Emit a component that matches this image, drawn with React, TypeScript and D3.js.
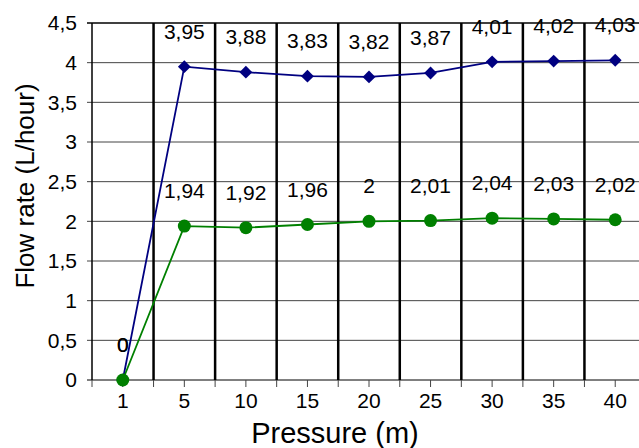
import React from "react";
import * as d3 from "d3";

const categories = ["1", "5", "10", "15", "20", "25", "30", "35", "40"];
const blueSeries = [0, 3.95, 3.88, 3.83, 3.82, 3.87, 4.01, 4.02, 4.03];
const greenSeries = [0, 1.94, 1.92, 1.96, 2, 2.01, 2.04, 2.03, 2.02];
const yTicks = [0, 0.5, 1, 1.5, 2, 2.5, 3, 3.5, 4, 4.5];

const W = 639;
const H = 448;
const FONT = "'Liberation Sans', Arial, sans-serif";

const fmt = (v: number) => String(v).replace(".", ",");

export default function App() {
  const margin = { top: 23, left: 92, bottom: 68 };
  const plotRight = 646;
  const x = d3.scaleBand<string>().domain(categories).range([margin.left, plotRight]).padding(0);
  const y = d3.scaleLinear().domain([0, 4.5]).range([H - margin.bottom, margin.top]);
  const cx = (c: string) => (x(c) as number) + x.bandwidth() / 2;
  const y0 = y(0);

  const line = d3
    .line<number>()
    .x((_, i) => cx(categories[i]))
    .y(d => y(d));

  const diamond = d3.symbol().type(d3.symbolDiamond2).size(105)();

  const boundaries = categories.map(c => x(c) as number).concat([plotRight]);

  return (
    <svg
      width={W}
      height={H}
      style={{ position: "absolute", left: 0, top: 0, background: "#fff" }}
      fontFamily={FONT}
    >
      {/* horizontal gridlines */}
      {yTicks.map(t => (
        <g key={t}>
          <line
            x1={margin.left - 5}
            x2={plotRight}
            y1={y(t)}
            y2={y(t)}
            stroke={t === 0 || t === 4.5 ? "#000" : "#444"}
            strokeWidth={t === 4.5 ? 1.5 : 1}
          />
          <text x={77} y={y(t)} dy="0.35em" textAnchor="end" fontSize={21} fill="#000">
            {fmt(t)}
          </text>
        </g>
      ))}

      {/* vertical category separators */}
      {boundaries.map((b, i) => (
        <g key={i}>
          <line x1={b} x2={b} y1={y0} y2={y0 + 7} stroke="#444" strokeWidth={1} />
          <line
            x1={b}
            x2={b}
            y1={margin.top}
            y2={y0}
            stroke="#000"
            strokeWidth={i === 0 ? 1.5 : 2.5}
          />
        </g>
      ))}

      {/* x ticks + labels */}
      {categories.map(c => (
        <g key={c}>
          <line x1={cx(c)} x2={cx(c)} y1={y0} y2={y0 + 7} stroke="#444" strokeWidth={1} />
          <text x={cx(c)} y={408} textAnchor="middle" fontSize={21} fill="#000">
            {c}
          </text>
        </g>
      ))}

      {/* series */}
      <path d={line(blueSeries) as string} fill="none" stroke="#000080" strokeWidth={1.8} />
      {blueSeries.map((v, i) => (
        <path key={i} d={diamond as string} transform={`translate(${cx(categories[i])},${y(v)})`} fill="#000080" />
      ))}
      <path d={line(greenSeries) as string} fill="none" stroke="#008000" strokeWidth={1.8} />
      {greenSeries.map((v, i) => (
        <circle key={i} cx={cx(categories[i])} cy={y(v)} r={6.5} fill="#008000" />
      ))}

      {/* data labels */}
      {blueSeries.map((v, i) => (
        <text key={"b" + i} x={cx(categories[i])} y={y(v) - 28} textAnchor="middle" fontSize={21} fill="#000">
          {fmt(v)}
        </text>
      ))}
      {greenSeries.map((v, i) => (
        <text key={"g" + i} x={cx(categories[i])} y={y(v) - 28} textAnchor="middle" fontSize={21} fill="#000">
          {fmt(v)}
        </text>
      ))}

      {/* axis titles */}
      <text x={335} y={443} textAnchor="middle" fontSize={29} fill="#000">
        Pressure (m)
      </text>
      <text
        transform={`translate(34,186) rotate(-90)`}
        textAnchor="middle"
        fontSize={26}
        fill="#000"
      >
        Flow rate (L/hour)
      </text>
    </svg>
  );
}
